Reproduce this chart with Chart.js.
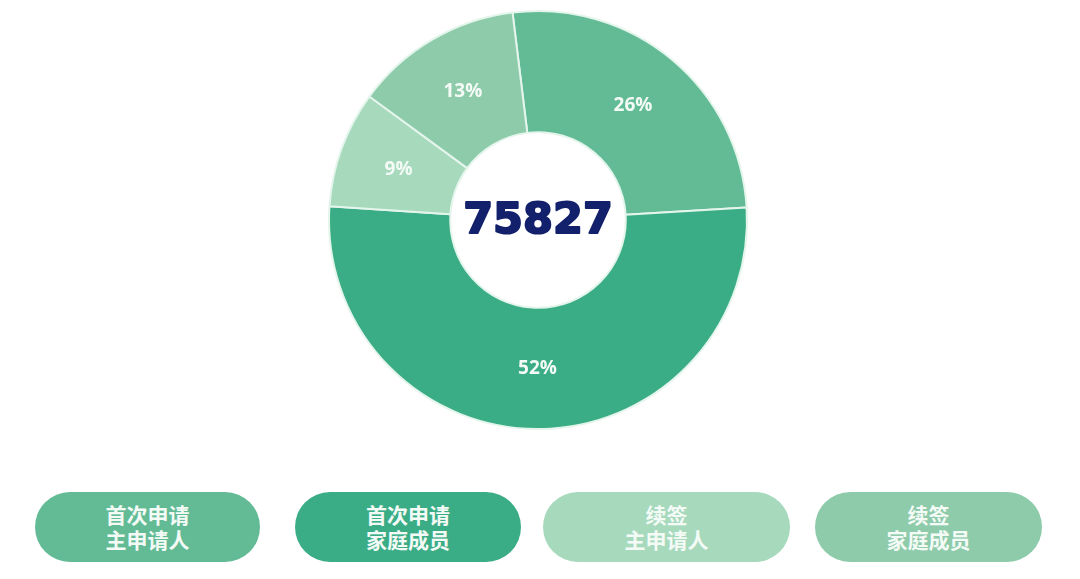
<!DOCTYPE html>
<html lang="zh">
<head>
<meta charset="utf-8">
<script src="https://cdn.jsdelivr.net/npm/chart.js@4"></script>
<style>
    body { margin: 0; background: #ffffff; width: 1080px; height: 579px; overflow: hidden; position: relative; }
    #caixaGrafico { position: absolute; left: 0; top: 0; width: 1076px; height: 440px; }
    .pilula {
        position: absolute; top: 492px; height: 70px; border-radius: 35px;
        display: flex; flex-direction: column; justify-content: center; align-items: center;
        color: #f4fbf7; font-family: "Noto Sans CJK SC", sans-serif; font-weight: bold;
        font-size: 21px; line-height: 25px;
    }
</style>
</head>
<body>
<div id="caixaGrafico"><canvas id="myChart"></canvas></div>
<div id="legenda"></div>
<script>
// dados
const categorias = [['首次申请', '主申请人'], ['首次申请', '家庭成员'], ['续签', '主申请人'], ['续签', '家庭成员']];
const percentuais = [26, 52, 9, 13];
const total = 75827;
const cores = ['#63bb96', '#3bad86', '#a7d9bd', '#8ecbaa'];

// posição das pílulas da legenda (esquerda, largura)
const pilulas = [[35, 225], [295, 226], [543, 247], [815, 227]];

// legenda feita em html a partir das categorias
const legenda = document.getElementById('legenda');
categorias.forEach((linhas, i) => {
    const div = document.createElement('div');
    div.className = 'pilula';
    div.style.left = pilulas[i][0] + 'px';
    div.style.width = pilulas[i][1] + 'px';
    div.style.background = cores[i];
    linhas.forEach(t => {
        const s = document.createElement('span');
        s.textContent = t;
        div.appendChild(s);
    });
    legenda.appendChild(div);
});

// escreve as porcentagens e o total no meio
const textoFatias = {
    id: 'textoFatias',
    afterDatasetsDraw(chart) {
        const ctx = chart.ctx;
        const meta = chart.getDatasetMeta(0);
        ctx.save();
        ctx.textAlign = 'center';
        ctx.textBaseline = 'middle';
        ctx.fillStyle = '#f4fbf7';
        ctx.font = 'bold 19px "Open Sans", sans-serif';
        meta.data.forEach((arco, i) => {
            const p = arco.getCenterPoint();
            ctx.fillText(percentuais[i] + '%', p.x, p.y);
        });
        const c = meta.data[0];
        ctx.fillStyle = '#13206b';
        ctx.strokeStyle = '#13206b';
        ctx.lineWidth = 2;
        ctx.lineJoin = 'round';
        ctx.font = 'bold 43px "DejaVu Sans", sans-serif';
        ctx.strokeText(String(total), c.x, c.y + 2);
        ctx.fillText(String(total), c.x, c.y + 2);
        ctx.restore();
    }
};

const ctx = document.getElementById('myChart').getContext('2d');
const myChart = new Chart(ctx, {
    type: 'doughnut',
    data: {
        labels: categorias.map(l => l.join('')),
        datasets: [{
            data: percentuais,
            backgroundColor: cores,
            borderColor: '#e4f5ec',
            borderWidth: 2
        }]
    },
    options: {
        responsive: true,
        maintainAspectRatio: false,
        animation: false,
        rotation: -7,
        cutout: '42%',
        layout: { padding: 10 },
        plugins: {
            legend: { display: false },
            tooltip: { enabled: false }
        }
    },
    plugins: [textoFatias]
});
</script>
</body>
</html>
